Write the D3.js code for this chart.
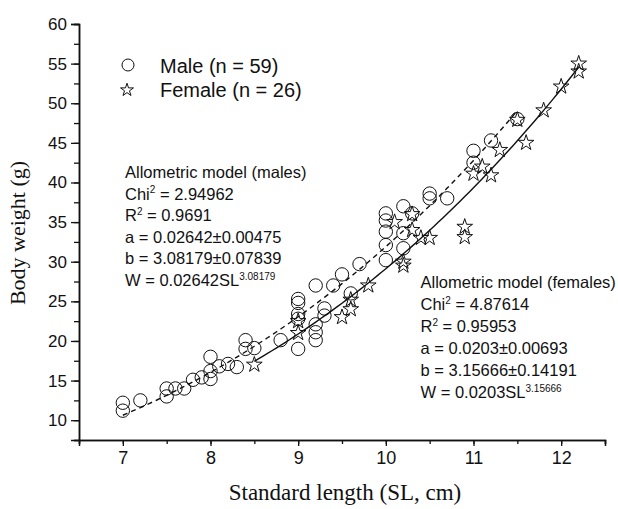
<!DOCTYPE html>
<html>
<head>
<meta charset="utf-8">
<script src="https://cdn.jsdelivr.net/npm/d3@7"></script>
<style>
  html, body { margin: 0; padding: 0; background: #fff; }
  svg { display: block; }
</style>
</head>
<body>
<svg id="chart" width="618" height="509"></svg>
<script>
// male (circles)
const maleSL = [7.0, 7.0, 7.2, 7.5, 7.5, 7.6, 7.7, 7.8, 7.9, 8.0, 8.0, 8.0, 8.1, 8.2, 8.3, 8.4, 8.4, 8.5, 8.8,
  9.0, 9.0, 9.0, 9.0, 9.0, 9.2, 9.2, 9.2, 9.2, 9.3, 9.3, 9.4, 9.5, 9.6, 9.7,
  10.0, 10.0, 10.0, 10.0, 10.0, 10.2, 10.2, 10.2, 10.3, 10.5, 10.5, 10.7, 11.0, 11.0, 11.2, 11.5];
const maleW = [12.2, 11.2, 12.5, 14.0, 13.0, 14.0, 14.0, 15.1, 15.4, 16.2, 15.2, 18.0, 16.8, 17.1, 16.7, 20.1, 19.0, 19.1, 20.1,
  25.3, 24.8, 23.4, 22.8, 19.0, 27.0, 22.1, 21.1, 20.1, 24.1, 23.2, 27.0, 28.4, 26.0, 29.7,
  30.2, 36.1, 35.2, 33.8, 32.1, 37.0, 33.6, 31.7, 36.1, 38.6, 38.0, 38.0, 44.0, 42.5, 45.3, 48.0];

// female (stars)
const femaleSL = [8.5, 9.0, 9.0, 9.5, 9.6, 9.6, 9.8, 10.1, 10.2, 10.2, 10.3, 10.3, 10.4, 10.5, 10.9, 10.9,
  11.0, 11.1, 11.2, 11.3, 11.6, 11.5, 11.8, 12.0, 12.2, 12.2];
const femaleW = [17.0, 21.0, 22.5, 23.0, 24.0, 25.2, 27.0, 35.0, 30.0, 29.5, 36.0, 34.0, 33.0, 33.0, 34.4, 33.1,
  41.1, 42.0, 40.9, 44.1, 45.0, 47.9, 49.1, 52.1, 55.0, 54.0];

// fitted allometric models W = a * SL^b
const maleA = 0.02642, maleB = 3.08179, maleRange = [7.0, 11.5];
const femaleA = 0.0203, femaleB = 3.15666, femaleRange = [8.5, 12.2];

const xTicks = [7, 8, 9, 10, 11, 12];
const yTicks = [10, 15, 20, 25, 30, 35, 40, 45, 50, 55, 60];

const legendLabels = ['Male (n = 59)', 'Female (n = 26)'];
const maleNotes = ['Allometric model (males)', 'Chi|2| = 2.94962', 'R|2| = 0.9691',
  'a = 0.02642\u00b10.00475', 'b = 3.08179\u00b10.07839', 'W = 0.02642SL|3.08179|'];
const femaleNotes = ['Allometric model (females)', 'Chi|2| = 4.87614', 'R|2| = 0.95953',
  'a = 0.0203\u00b10.00693', 'b = 3.15666\u00b10.14191', 'W = 0.0203SL|3.15666|'];

const sans = '"Liberation Sans", Arial, sans-serif';
const serif = '"Liberation Serif", "Times New Roman", serif';
const ink = '#111';

const svg = d3.select('#chart');

const x = d3.scaleLinear().domain([6.5, 12.5]).range([79, 605]);
const y = d3.scaleLinear().domain([7.5, 60]).range([440, 24]);

// axes
const xAxis = svg.append('g').attr('transform', 'translate(0,440)');
xAxis.call(d3.axisBottom(x).tickValues(d3.range(6.5, 12.51, 0.5)).tickSize(4).tickFormat(''));
xAxis.append('g').call(d3.axisBottom(x).tickValues(xTicks).tickSize(6).tickPadding(5).tickFormat(d3.format('d')));
const yAxis = svg.append('g').attr('transform', 'translate(79,0)');
yAxis.call(d3.axisLeft(y).tickValues(d3.range(7.5, 60.01, 2.5)).tickSize(5).tickFormat(''));
yAxis.append('g').call(d3.axisLeft(y).tickValues(yTicks).tickSize(8).tickPadding(4).tickFormat(d3.format('d')));

svg.selectAll('.domain').attr('stroke', ink).attr('stroke-width', 1.5);
svg.selectAll('.tick line').attr('stroke', ink).attr('stroke-width', 1.3);
xAxis.selectAll('text').attr('font-family', sans).attr('font-size', 18).attr('fill', ink);
yAxis.selectAll('text').attr('font-family', sans).attr('font-size', 17).attr('fill', ink);
// only the outer domain line should show once
xAxis.select('g').select('.domain').remove();
yAxis.select('g').select('.domain').remove();

// axis titles
svg.append('text')
  .attr('x', 345).attr('y', 500)
  .attr('text-anchor', 'middle')
  .attr('font-family', serif).attr('font-size', 23).attr('fill', ink)
  .text('Standard length (SL, cm)');
svg.append('text')
  .attr('transform', 'translate(25,233) rotate(-90)')
  .attr('text-anchor', 'middle')
  .attr('font-family', serif).attr('font-size', 22).attr('fill', ink)
  .text('Body weight (g)');

// fitted curves
const curve = (a, b, range) => d3.range(range[0], range[1] + 0.001, 0.05).map(s => [s, a * Math.pow(s, b)]);
const line = d3.line().x(d => x(d[0])).y(d => y(d[1]));
svg.append('path')
  .attr('d', line(curve(maleA, maleB, maleRange)))
  .attr('fill', 'none').attr('stroke', ink).attr('stroke-width', 1.4)
  .attr('stroke-dasharray', '5,4');
svg.append('path')
  .attr('d', line(curve(femaleA, femaleB, femaleRange)))
  .attr('fill', 'none').attr('stroke', ink).attr('stroke-width', 1.4);

// points
const star = d3.symbol().type(d3.symbolStar).size(76);
svg.append('g')
  .selectAll('circle')
  .data(maleSL.map((s, i) => [s, maleW[i]]))
  .enter()
  .append('circle')
  .attr('cx', d => x(d[0]))
  .attr('cy', d => y(d[1]))
  .attr('r', 6.7)
  .attr('fill', 'none').attr('stroke', ink).attr('stroke-width', 1);
svg.append('g')
  .selectAll('path')
  .data(femaleSL.map((s, i) => [s, femaleW[i]]))
  .enter()
  .append('path')
  .attr('d', star)
  .attr('transform', d => `translate(${x(d[0])},${y(d[1])})`)
  .attr('fill', 'none').attr('stroke', ink).attr('stroke-width', 1);

// legend
const legend = svg.append('g');
legend.append('circle').attr('cx', 128).attr('cy', 65).attr('r', 6)
  .attr('fill', 'none').attr('stroke', ink).attr('stroke-width', 1);
legend.append('path').attr('d', d3.symbol().type(d3.symbolStar).size(52)())
  .attr('transform', 'translate(127,90)')
  .attr('fill', 'none').attr('stroke', ink).attr('stroke-width', 1);
legend.selectAll('text')
  .data(legendLabels)
  .enter()
  .append('text')
  .attr('x', 160)
  .attr('y', (d, i) => 72.5 + i * 24.5)
  .attr('font-family', sans).attr('font-size', 20).attr('fill', ink)
  .text(d => d);

// model notes; text between bars is a superscript
function notes(lines, x0, y0, step) {
  const g = svg.append('g').attr('font-family', sans).attr('font-size', 16.5).attr('fill', ink);
  lines.forEach((str, i) => {
    const t = g.append('text').attr('x', x0).attr('y', y0 + i * step);
    str.split('|').forEach((part, j) => {
      if (!part) return;
      if (j % 2 === 1) {
        t.append('tspan').attr('dy', -6.5).attr('font-size', 10).text(part);
      } else {
        t.append('tspan').attr('dy', j > 0 ? 6.5 : 0).text(part);
      }
    });
  });
}
notes(maleNotes, 125, 178, 21.6);
notes(femaleNotes, 420.5, 288, 22);
</script>
</body>
</html>
